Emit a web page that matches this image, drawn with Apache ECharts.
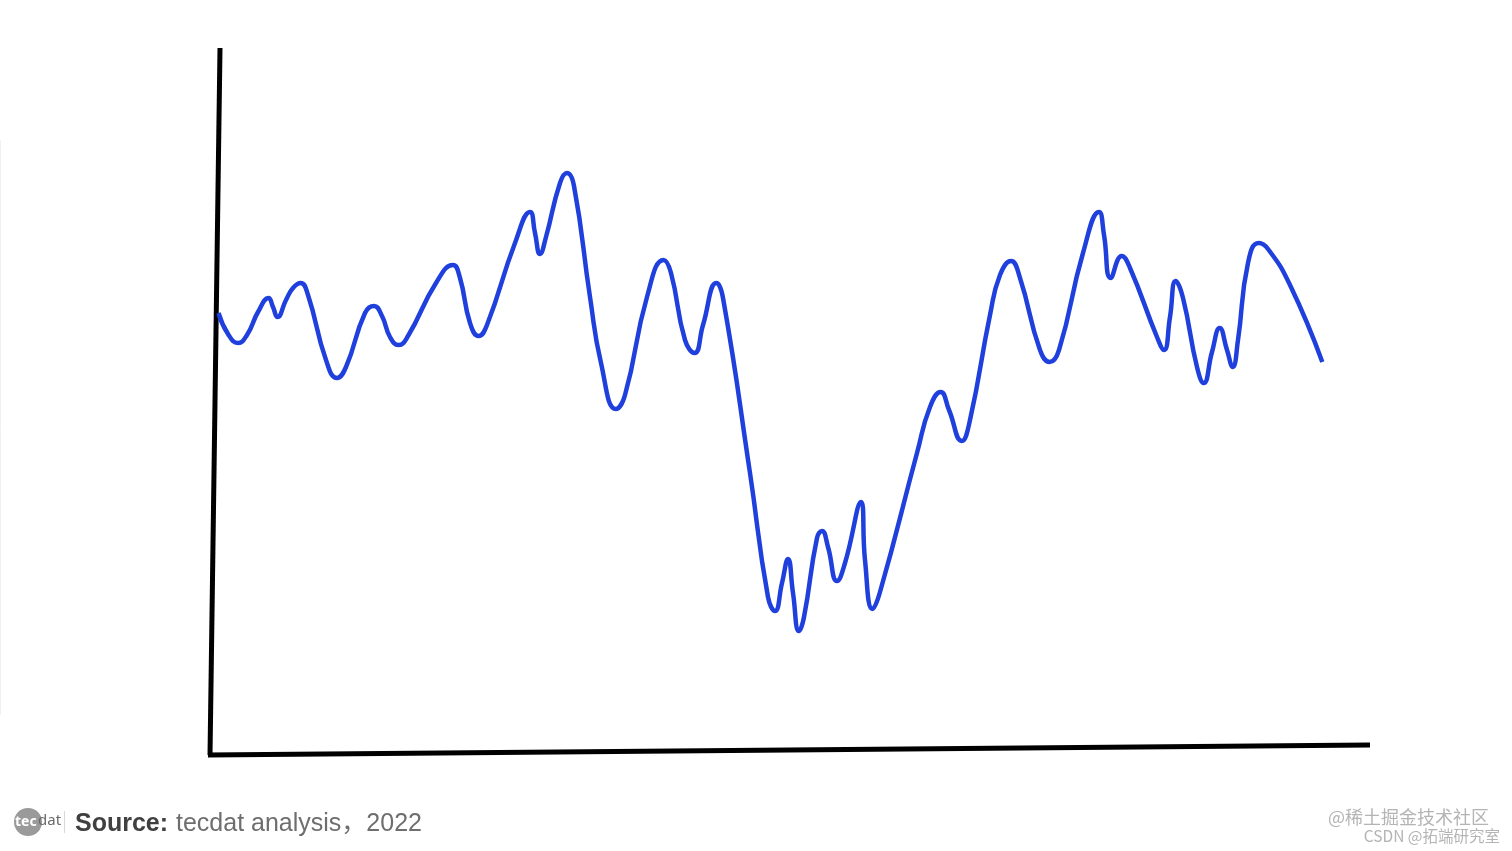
<!DOCTYPE html>
<html>
<head>
<meta charset="utf-8">
<title>tecdat</title>
<style>
  html, body { margin: 0; padding: 0; background: #fff; }
  #chart { width: 1512px; height: 851px; }
</style>
<script src="https://cdn.jsdelivr.net/npm/echarts@6/dist/echarts.min.js"></script>
</head>
<body>
<div id="chart"></div>
<script>
// 曲线数据
const curveX = [218.5, 228, 238, 247, 258, 268.5, 273, 277.5, 286, 293, 300.7, 308, 326, 337, 346, 365, 374, 382, 390, 398.6, 408, 436, 453, 460, 470, 478.6, 487, 515, 530, 535, 540, 546, 560, 567, 574, 590, 601, 616, 625, 647, 663.6, 671, 685, 694.6, 703, 716.4, 723, 750, 768, 775, 782, 788, 793, 799, 804, 817, 822, 828, 837, 845, 861, 865, 872.5, 880, 917, 930, 940.7, 949, 961.7, 970, 990, 1000, 1011, 1020, 1040, 1049.7, 1059, 1083, 1099, 1104, 1110.7, 1121.7, 1130, 1157, 1164, 1170, 1175.7, 1183, 1197, 1203.7, 1212, 1219.7, 1227, 1232.7, 1238, 1248, 1258.7, 1268, 1290, 1322.3];
const curveY = [313, 334, 343, 335, 312, 298, 307, 317, 300, 288, 283, 295, 360, 378, 367, 313, 306, 316, 337, 345, 336, 283, 265, 278, 323, 336, 325, 243, 212, 233, 254, 237, 183, 173, 186, 297, 363, 409, 395, 297, 260, 273, 340, 353, 325, 283, 298, 473, 597, 611, 583, 559, 593, 631, 617, 538, 531, 547, 581, 563, 502, 560, 609, 592, 453, 407, 392, 410, 441, 420, 315, 275, 261, 278, 350, 362, 350, 253, 212, 235, 278, 256, 268, 337, 350, 317, 281, 298, 367, 383, 352, 328, 350, 367, 340, 263, 243, 249, 285, 362];

// 两条手绘坐标轴和左侧淡线
const axisYX = [220, 210];
const axisYY = [48, 755];
const axisXX = [208, 1370];
const axisXY = [755, 745];
const edgeX = [0.5, 0.5];
const edgeY = [140, 715];

const sourceLabel = "Source:";
const sourceText = "tecdat analysis，2022";
const watermarkTop = "@稀土掘金技术社区";
const watermarkBottom = "CSDN @拓端研究室";

function toPairs(xs, ys) {
  return xs.map((x, i) => [x, ys[i]]);
}

function straightLine(xs, ys, color, width) {
  return {
    type: "line",
    data: toPairs(xs, ys),
    symbol: "none",
    silent: true,
    lineStyle: { color, width, cap: "butt" },
  };
}

const chart = echarts.init(document.getElementById("chart"), null, { renderer: "canvas" });
chart.setOption({
  animation: false,
  backgroundColor: "#ffffff",
  grid: { left: 0, right: 0, top: 0, bottom: 0 },
  xAxis: { type: "value", min: 0, max: 1512, show: false },
  yAxis: { type: "value", min: 0, max: 851, inverse: true, show: false },
  series: [
    straightLine(edgeX, edgeY, "#f1f1f1", 1),
    straightLine(axisYX, axisYY, "#000000", 5),
    straightLine(axisXX, axisXY, "#000000", 5),
    {
      type: "line",
      data: toPairs(curveX, curveY),
      smooth: 0.5,
      symbol: "none",
      silent: true,
      lineStyle: { color: "#1f40dc", width: 4.5, cap: "butt" },
    },
  ],
  graphic: [
    { type: "circle", shape: { cx: 28, cy: 822, r: 14 }, style: { fill: "#9a9a9a" } },
    {
      type: "text",
      x: 15, y: 822,
      style: { text: "tec", fill: "#ffffff", font: "bold 14px 'Noto Sans'", textVerticalAlign: "middle" },
    },
    {
      type: "text",
      x: 38, y: 821,
      style: { text: "dat", fill: "#6a6a6a", font: "15px 'Noto Sans'", textVerticalAlign: "middle" },
    },
    { type: "rect", shape: { x: 64, y: 811, width: 1, height: 22 }, style: { fill: "#d8d8d8" } },
    {
      type: "text",
      x: 75, y: 824,
      style: { text: sourceLabel, fill: "#404040", font: "bold 25px 'Liberation Sans'", textVerticalAlign: "middle" },
    },
    {
      type: "text",
      x: 176, y: 824,
      style: { text: sourceText, fill: "#6e6e6e", font: "25px 'Liberation Sans', 'Noto Sans CJK SC'", textVerticalAlign: "middle" },
    },
    {
      type: "text",
      x: 1489, y: 817,
      style: { text: watermarkTop, fill: "#b4b4b4", font: "18px 'Noto Sans CJK SC'", textAlign: "right", textVerticalAlign: "middle" },
    },
    {
      type: "text",
      x: 1500, y: 836,
      style: { text: watermarkBottom, fill: "#b4b4b4", font: "15.5px 'Noto Sans CJK SC'", textAlign: "right", textVerticalAlign: "middle" },
    },
  ],
});
window.addEventListener("resize", () => chart.resize());
</script>
</body>
</html>
